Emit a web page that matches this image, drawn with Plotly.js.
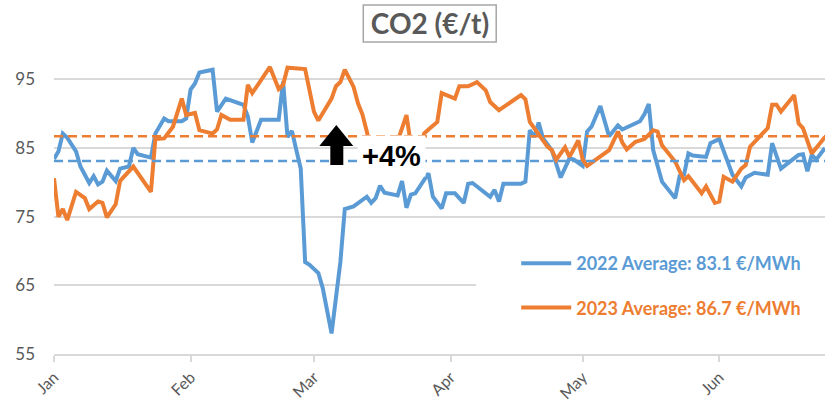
<!DOCTYPE html>
<html>
<head>
<meta charset="utf-8">
<script src="https://cdn.plot.ly/plotly-3.0.1.min.js"></script>
<style>
  html, body { margin: 0; padding: 0; background: #ffffff; }
  #chart { width: 825px; height: 403px; }
</style>
</head>
<body>
<div id="chart"></div>
<script>
// ---- data ----
const dates2022 = ["2023-01-01","2023-01-02","2023-01-03","2023-01-04","2023-01-06","2023-01-07","2023-01-09","2023-01-10","2023-01-11","2023-01-12",
 "2023-01-13","2023-01-15","2023-01-16","2023-01-18","2023-01-19","2023-01-20","2023-01-23","2023-01-24","2023-01-26","2023-01-27",
 "2023-01-30","2023-01-31","2023-02-01","2023-02-02","2023-02-03","2023-02-06","2023-02-07","2023-02-09","2023-02-13","2023-02-14",
 "2023-02-15","2023-02-17","2023-02-21","2023-02-22","2023-02-23","2023-02-24","2023-02-25","2023-02-26","2023-02-27","2023-02-28",
 "2023-03-02","2023-03-03","2023-03-05","2023-03-07","2023-03-08","2023-03-10","2023-03-13","2023-03-14","2023-03-15","2023-03-16",
 "2023-03-17","2023-03-20","2023-03-21","2023-03-22","2023-03-23","2023-03-24","2023-03-27","2023-03-28","2023-03-30","2023-03-31",
 "2023-04-02","2023-04-04","2023-04-05","2023-04-06","2023-04-10","2023-04-11","2023-04-12","2023-04-13","2023-04-17","2023-04-18",
 "2023-04-19","2023-04-20","2023-04-21","2023-04-22","2023-04-24","2023-04-26","2023-04-28","2023-04-29","2023-05-01","2023-05-02",
 "2023-05-03","2023-05-05","2023-05-07","2023-05-09","2023-05-10","2023-05-14","2023-05-15","2023-05-16","2023-05-17","2023-05-18",
 "2023-05-19","2023-05-22","2023-05-23","2023-05-24","2023-05-25","2023-05-26","2023-05-29","2023-05-30","2023-06-01","2023-06-04",
 "2023-06-06","2023-06-07","2023-06-09","2023-06-12","2023-06-13","2023-06-15","2023-06-19","2023-06-20","2023-06-21","2023-06-22",
 "2023-06-23","2023-06-25"];
const co2_2022 = [83.4,84.5,87.1,86.5,84.5,82.3,79.9,80.9,79.7,80.1,
 81.7,80.2,82.0,82.3,85.0,84.1,83.6,87.1,89.3,88.9,
 88.9,89.3,93.5,94.4,96.0,96.4,90.3,92.2,91.3,89.6,
 85.8,89.1,89.1,94.7,86.6,87.5,84.7,82.0,68.4,68.0,
 66.8,64.6,58.0,68.4,76.1,76.5,77.9,77.0,77.7,79.5,
 78.5,78.1,80.2,76.3,78.2,78.4,81.3,77.9,76.2,78.4,
 78.4,77.0,79.8,79.9,77.9,78.9,77.2,79.8,79.8,80.1,
 87.6,86.6,88.7,86.4,84.7,80.7,83.5,83.3,82.4,87.4,
 88.1,91.1,86.7,88.3,87.7,88.9,89.9,91.4,84.7,82.5,
 80.1,77.7,80.9,81.1,84.2,83.9,83.7,85.7,86.3,81.1,
 79.4,80.7,81.4,81.1,85.7,82.0,84.0,84.1,81.6,84.0,
 83.3,85.0];

const dates2023 = ["2023-01-01","2023-01-02","2023-01-03","2023-01-04","2023-01-06","2023-01-08","2023-01-09","2023-01-11","2023-01-12","2023-01-13",
 "2023-01-15","2023-01-16","2023-01-19","2023-01-23","2023-01-24","2023-01-26","2023-01-28","2023-01-29","2023-01-30","2023-01-31",
 "2023-02-02","2023-02-03","2023-02-06","2023-02-07","2023-02-08","2023-02-10","2023-02-13","2023-02-14","2023-02-15","2023-02-17",
 "2023-02-19","2023-02-21","2023-02-22","2023-02-23","2023-02-27","2023-02-28","2023-03-01","2023-03-02","2023-03-05","2023-03-06",
 "2023-03-07","2023-03-08","2023-03-10","2023-03-11","2023-03-12","2023-03-13","2023-03-14","2023-03-16","2023-03-18","2023-03-20",
 "2023-03-22","2023-03-23","2023-03-25","2023-03-26","2023-03-27","2023-03-28","2023-03-29","2023-03-30","2023-04-02","2023-04-03",
 "2023-04-05","2023-04-07","2023-04-09","2023-04-10","2023-04-12","2023-04-17","2023-04-18","2023-04-19","2023-04-21","2023-04-23",
 "2023-04-24","2023-04-25","2023-04-27","2023-04-28","2023-04-30","2023-05-01","2023-05-02","2023-05-07","2023-05-09","2023-05-10",
 "2023-05-11","2023-05-13","2023-05-15","2023-05-17","2023-05-18","2023-05-19","2023-05-22","2023-05-24","2023-05-25","2023-05-28",
 "2023-05-29","2023-05-31","2023-06-01","2023-06-02","2023-06-04","2023-06-06","2023-06-07","2023-06-08","2023-06-12","2023-06-13",
 "2023-06-14","2023-06-15","2023-06-18","2023-06-19","2023-06-20","2023-06-22","2023-06-25"];
const co2_2023 = [80.6,75.0,76.1,74.5,78.6,77.7,76.1,77.2,77.0,74.9,
 76.8,80.2,82.3,78.6,86.3,86.4,88.1,90.1,92.2,89.8,
 90.1,87.6,87.1,87.7,89.8,89.1,89.1,94.2,93.0,94.9,
 96.8,93.6,94.2,96.7,96.5,93.4,90.3,89.0,92.2,94.0,
 94.6,96.4,93.9,91.5,89.9,87.4,84.5,83.5,84.8,86.0,
 89.8,85.5,84.5,87.1,87.7,88.2,88.8,93.0,92.2,94.0,
 94.0,94.6,93.4,91.7,90.5,92.7,92.1,88.8,86.9,85.2,
 84.7,83.3,85.1,83.7,86.1,83.3,82.4,84.7,87.4,85.8,
 84.8,85.9,86.3,87.6,87.4,85.4,83.0,80.3,80.9,78.4,
 79.4,77.0,77.2,80.8,80.1,82.0,82.5,85.2,87.9,91.3,
 91.3,90.3,92.7,88.6,87.9,84.2,86.6];

const avg2022 = 83.1;
const avg2023 = 86.7;
const axisRange = ["2023-01-01", "2023-06-25"];
const name2022 = "2022 Average: 83.1 €/MWh";
const name2023 = "2023 Average: 86.7 €/MWh";
const titleText = "CO2 (€/t)";
const changeText = "+4%";

const blue = "#5B9BD5";
const orange = "#ED7D31";
const grey = "#595959";
const grid = "#D9D9D9";

// paper-coordinate helpers for decorations (plot area: x 53.5..825, y 45..354 px)
const L = 53.5, R = 825, T = 45, B = 354;
const px = x => (x - L) / (R - L);
const py = y => (B - y) / (B - T);

const traces = [
  { x: dates2022, y: co2_2022, type: "scatter", mode: "lines", name: '<b><span style="color:' + blue + '">' + name2022 + '</span></b>',
    line: { color: blue, width: 4, shape: "linear" }, legendgroup: "a", hoverinfo: "x+y" },
  { x: dates2023, y: co2_2023, type: "scatter", mode: "lines", name: '<b><span style="color:' + orange + '">' + name2023 + '</span></b>',
    line: { color: orange, width: 4, shape: "linear" }, legendgroup: "b", hoverinfo: "x+y" },
  { x: axisRange, y: [avg2022, avg2022], type: "scatter", mode: "lines", showlegend: false,
    line: { color: blue, width: 2.5, dash: "9px,5px" } },
  { x: axisRange, y: [avg2023, avg2023], type: "scatter", mode: "lines", showlegend: false,
    line: { color: orange, width: 2.5, dash: "9px,5px" } }
];

const arrowPath = "M " + px(319) + " " + py(146) + " L " + px(336) + " " + py(125) + " L " + px(353) + " " + py(146) +
  " L " + px(343) + " " + py(146) + " L " + px(343) + " " + py(165) + " L " + px(330) + " " + py(165) +
  " L " + px(330) + " " + py(146) + " Z";

const layout = {
  width: 825, height: 403,
  margin: { l: L, r: 0, t: T, b: 403 - B, pad: 0 },
  paper_bgcolor: "#ffffff", plot_bgcolor: "#ffffff",
  font: { family: "Lato, 'Open Sans', sans-serif", color: grey },
  title: { text: "<b>" + titleText + "</b>", font: { family: "Lato", size: 28, color: grey },
           x: 430 / 825, xref: "container", xanchor: "center", y: 1 - 24 / 403, yref: "container", yanchor: "middle" },
  xaxis: {
    type: "date", range: axisRange, tick0: "2023-01-01", dtick: "M1", tickformat: "%b",
    tickangle: -45, ticks: "outside", ticklen: 6, tickwidth: 1.5, tickcolor: grid,
    showgrid: false, showline: true, linecolor: grid, linewidth: 1.5, zeroline: false,
    tickfont: { family: "Lato", size: 16, color: grey }, fixedrange: true
  },
  yaxis: {
    range: [55, 100], tick0: 55, dtick: 10, showgrid: true, gridcolor: grid, gridwidth: 1.5,
    zeroline: false, showline: false, ticks: "", ticklabelstandoff: 18,
    tickfont: { family: "Lato", size: 17, color: grey }, fixedrange: true
  },
  showlegend: true,
  legend: {
    x: px(516), xanchor: "left", y: py(245), yanchor: "top",
    bgcolor: "rgba(0,0,0,0)", borderwidth: 0, tracegroupgap: 18, itemwidth: 50,
    font: { family: "Lato", size: 18 }
  },
  shapes: [
    { type: "rect", xref: "paper", yref: "paper", x0: px(476), x1: 1, y0: py(338), y1: py(228),
      fillcolor: "#ffffff", line: { width: 0 }, layer: "above" },
    { type: "rect", xref: "paper", yref: "paper", x0: px(363), x1: px(496), y0: py(42), y1: py(5),
      fillcolor: "rgba(0,0,0,0)", line: { color: "#A6A6A6", width: 1.5 }, layer: "above" },
    { type: "path", xref: "paper", yref: "paper", path: arrowPath, fillcolor: "#000000", line: { width: 0 }, layer: "above" }
  ],
  annotations: [
    { text: "<b>" + changeText + "</b>", xref: "paper", yref: "paper", x: px(391), y: py(156),
      xanchor: "center", yanchor: "middle", showarrow: false, bgcolor: "#ffffff", borderpad: 4,
      font: { family: "Liberation Sans, Arial, sans-serif", size: 29, color: "#000000" } }
  ]
};

Plotly.newPlot("chart", traces, layout, { displayModeBar: false, staticPlot: false, responsive: false });
</script>
</body>
</html>
